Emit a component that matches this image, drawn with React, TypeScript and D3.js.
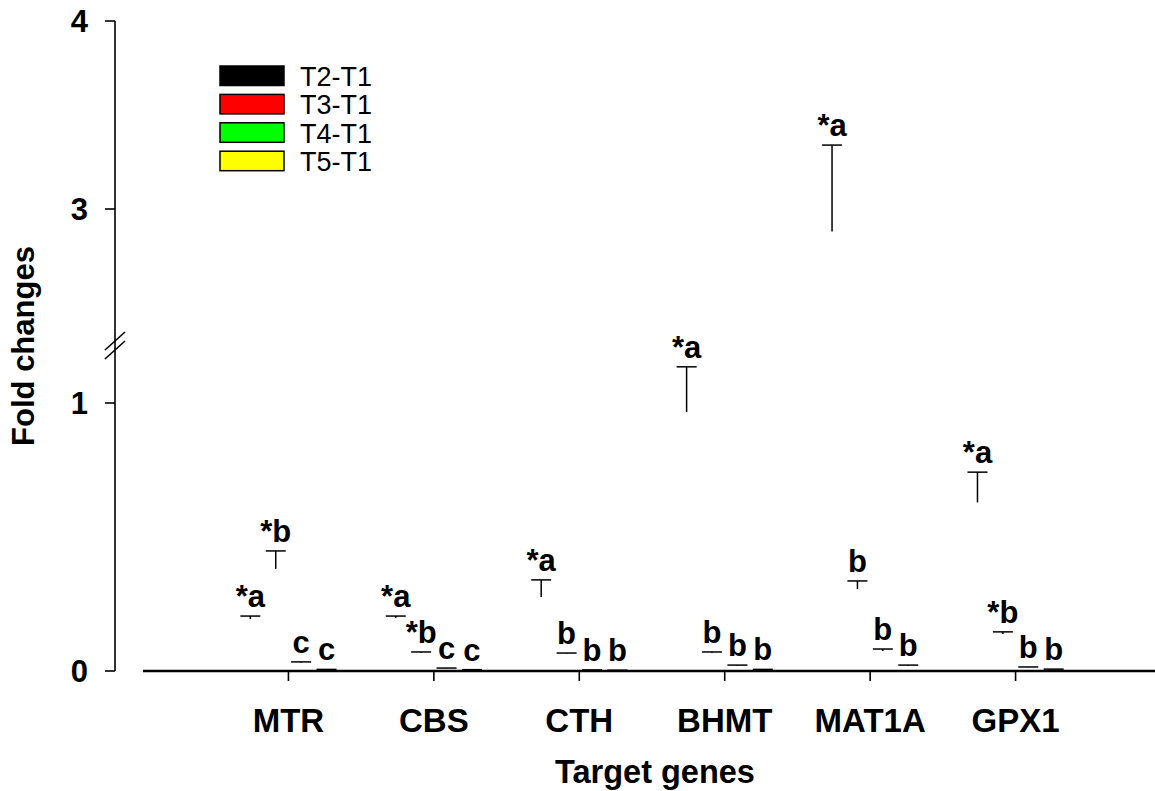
import React from 'react';
import * as d3 from 'd3';

const genes = ['MTR', 'CBS', 'CTH', 'BHMT', 'MAT1A', 'GPX1'];
const series = ['T2-T1', 'T3-T1', 'T4-T1', 'T5-T1'];
const colors = ['#000000', '#ff0000', '#00ff00', '#ffff00'];

// mean values per series (bars themselves are not visible in the figure)
const meanT2 = [0.194, 0.198, 0.276, 0.966, 2.88, 0.629];
const meanT3 = [0.381, 0.068, 0.065, 0.068, 0.306, 0.138];
const meanT4 = [0.032, 0.01, 0.004, 0.02, 0.075, 0.014];
const meanT5 = [0.006, 0.005, 0.003, 0.006, 0.02, 0.007];

// top of error bar (mean + SE)
const topT2 = [0.205, 0.205, 0.34, 1.135, 3.34, 0.742];
const topT3 = [0.448, 0.071, 0.067, 0.071, 0.336, 0.146];
const topT4 = [0.034, 0.011, 0.004, 0.022, 0.082, 0.015];
const topT5 = [0.006, 0.005, 0.003, 0.006, 0.022, 0.007];

const labelT2 = ['*a', '*a', '*a', '*a', '*a', '*a'];
const labelT3 = ['*b', '*b', 'b', 'b', 'b', '*b'];
const labelT4 = ['c', 'c', 'b', 'b', 'b', 'b'];
const labelT5 = ['c', 'c', 'b', 'b', 'b', 'b'];

const lowTicks = [0, 1];
const highTicks = [3, 4];

const means = [meanT2, meanT3, meanT4, meanT5];
const tops = [topT2, topT3, topT4, topT5];
const labels = [labelT2, labelT3, labelT4, labelT5];

const font = 'Arial, "Liberation Sans", sans-serif';

export default function App() {
  const W = 1155, H = 791;
  const axisX = 115;
  const xStart = 143, xEnd = 1161;

  // categories sit at integer positions 1..6 on a 0..7 axis
  const x = d3.scaleLinear().domain([0, genes.length + 1]).range([xStart, xEnd]);
  const barW = 25.4;

  // broken y axis: lower 0..1.2, upper 2.3..4
  const yLow = d3.scaleLinear().domain([0, 1.2]).range([671, 349.4]);
  const yHigh = d3.scaleLinear().domain([2.3, 4]).range([340.6, 21]);
  const y = (v: number) => (v <= 1.2 ? yLow(v) : yHigh(v));

  const capW = 20;

  return (
    <svg width={W} height={H} style={{ position: 'absolute', left: 0, top: 0, background: '#fff' }} fontFamily={font}>
      {/* y axis */}
      <line x1={axisX} x2={axisX} y1={yHigh(4)} y2={yLow(0)} stroke="#000" strokeWidth={1.6} />
      {[...lowTicks.map(t => yLow(t)), ...highTicks.map(t => yHigh(t))].map((py, i) => (
        <line key={'yt' + i} x1={axisX - 10} x2={axisX} y1={py} y2={py} stroke="#000" strokeWidth={1.6} />
      ))}
      {[...lowTicks.map(t => [t, yLow(t)]), ...highTicks.map(t => [t, yHigh(t)])].map(([t, py], i) => (
        <text key={'yl' + i} x={88} y={py} dy="0.36em" textAnchor="end" fontSize={31} fontWeight="bold">{t}</text>
      ))}
      {/* break marks */}
      <line x1={105} y1={350} x2={125} y2={332} stroke="#000" strokeWidth={1.6} />
      <line x1={105} y1={359} x2={125} y2={341} stroke="#000" strokeWidth={1.6} />

      {/* x axis */}
      <line x1={xStart} x2={xEnd} y1={yLow(0)} y2={yLow(0)} stroke="#000" strokeWidth={2.4} />
      {genes.map((g, i) => (
        <g key={g}>
          <line x1={x(i + 1)} x2={x(i + 1)} y1={yLow(0)} y2={yLow(0) + 10} stroke="#000" strokeWidth={1.6} />
          <text x={x(i + 1)} y={732} textAnchor="middle" fontSize={33} fontWeight="bold">{g}</text>
        </g>
      ))}

      {/* error bars and letters */}
      {series.map((s, si) =>
        genes.map((g, gi) => {
          const cx = x(gi + 1) + (si - 1.5) * barW;
          const yt = y(tops[si][gi]);
          const ym = y(means[si][gi]);
          return (
            <g key={s + g}>
              <line x1={cx} x2={cx} y1={ym} y2={yt} stroke="#000" strokeWidth={1.5} />
              <line x1={cx - capW / 2} x2={cx + capW / 2} y1={yt} y2={yt} stroke="#000" strokeWidth={1.5} />
              <text x={cx} y={yt - 9} textAnchor="middle" fontSize={31} fontWeight="bold">{labels[si][gi]}</text>
            </g>
          );
        })
      )}

      {/* legend */}
      {series.map((s, i) => (
        <g key={'lg' + s} transform={`translate(220,${66 + i * 28.4})`}>
          <rect width={64} height={19.5} fill={colors[i]} stroke="#000" strokeWidth={1.5} />
          <text x={80} y={10} dy="0.36em" fontSize={27}>{s}</text>
        </g>
      ))}

      {/* axis titles */}
      <text transform="translate(34,346) rotate(-90)" textAnchor="middle" fontSize={31} fontWeight="bold">Fold changes</text>
      <text x={655} y={783} textAnchor="middle" fontSize={32.5} fontWeight="bold">Target genes</text>
    </svg>
  );
}
